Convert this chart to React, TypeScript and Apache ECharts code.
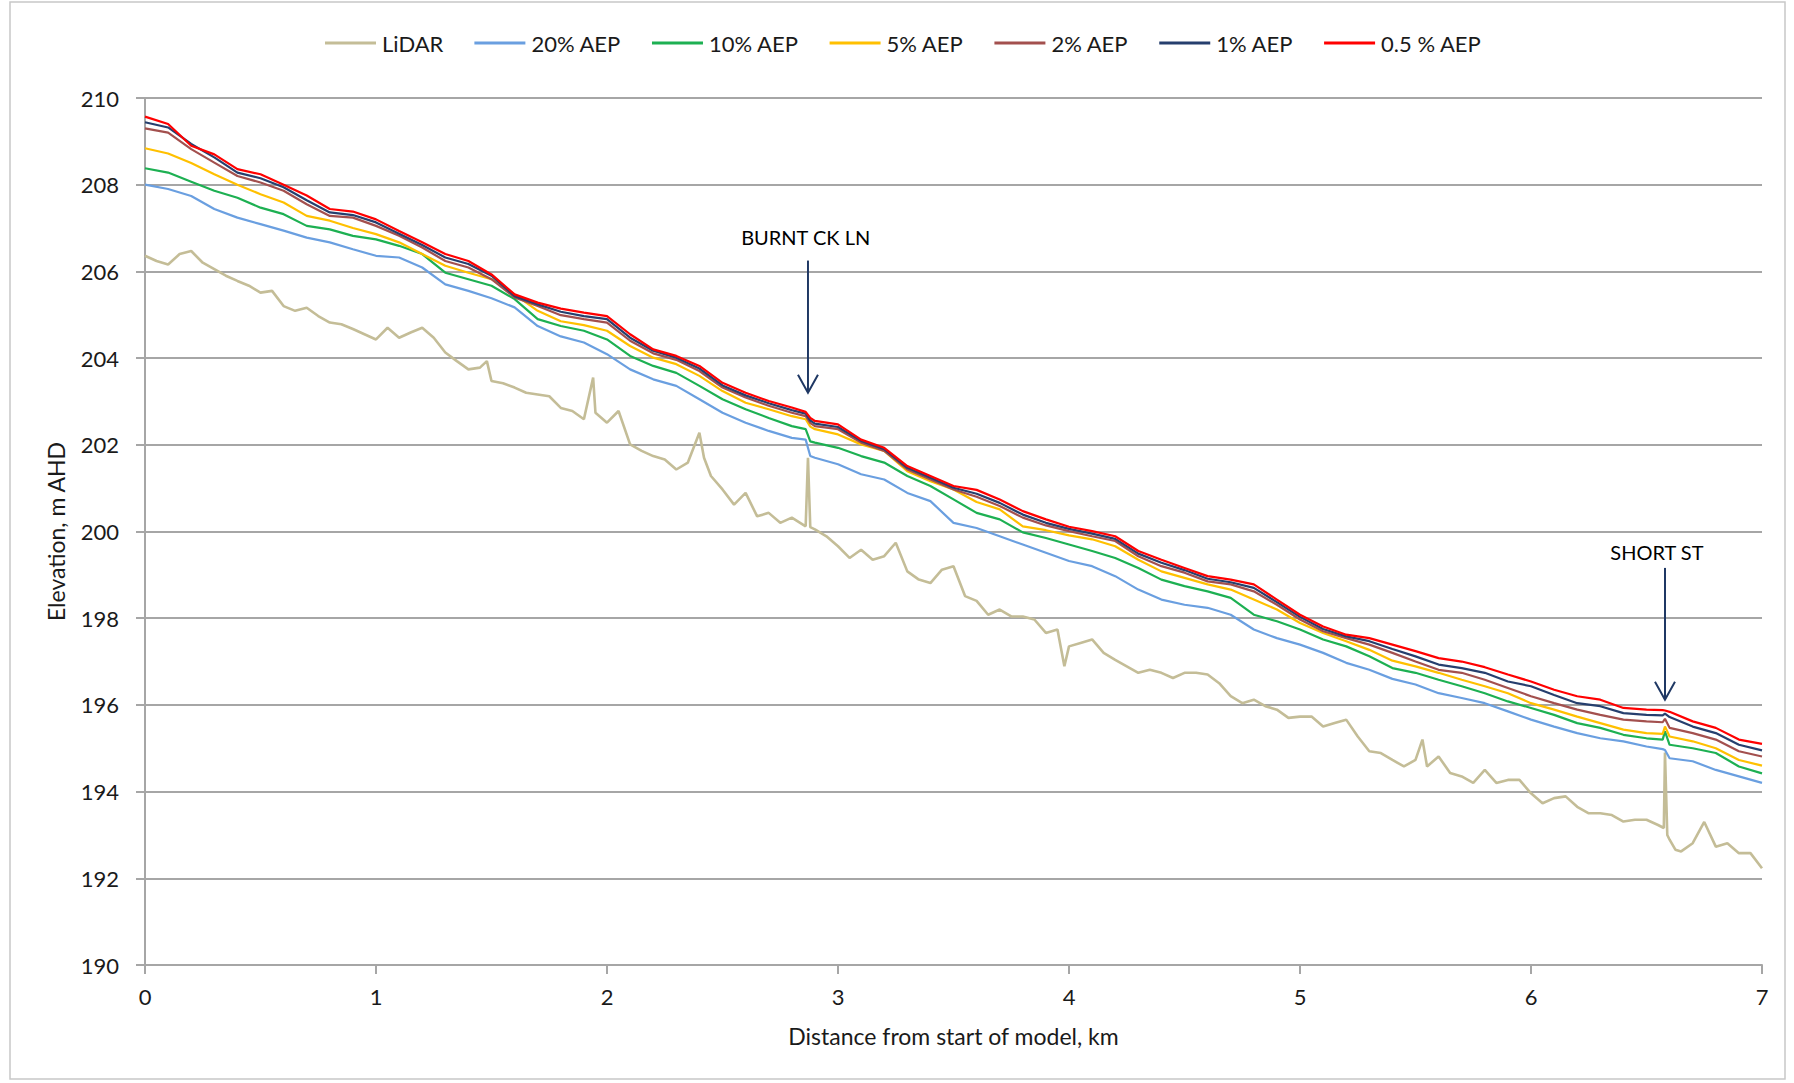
import React, { useEffect, useRef } from "react";
import * as echarts from "echarts";

// ---- Data ----
const aepDistance = [
  0, 0.1, 0.2, 0.3, 0.4, 0.5, 0.6, 0.7, 0.8, 0.9,
  1.0, 1.1, 1.2, 1.3, 1.4, 1.5, 1.6, 1.7, 1.8, 1.9,
  2.0, 2.1, 2.2, 2.3, 2.4, 2.5, 2.6, 2.7, 2.8,
  2.86, 2.88,
  2.9,
  3.0, 3.1, 3.2, 3.3, 3.4, 3.5, 3.6, 3.7, 3.8, 3.9,
  4.0, 4.1, 4.2, 4.3, 4.4, 4.5, 4.6, 4.7, 4.8, 4.9,
  5.0, 5.1, 5.2, 5.3, 5.4, 5.5, 5.6, 5.7, 5.8, 5.9,
  6.0, 6.1, 6.2, 6.3, 6.4, 6.5,
  6.57, 6.58,
  6.6, 6.7, 6.8, 6.9, 7.0,
];

const aep20 = [
  208.0, 207.9, 207.74, 207.44, 207.24, 207.09, 206.94, 206.78, 206.67, 206.51,
  206.36, 206.32, 206.09, 205.7, 205.55, 205.38, 205.17, 204.74, 204.5, 204.36,
  204.09, 203.74, 203.51, 203.36, 203.05, 202.74, 202.51, 202.32, 202.16,
  202.12, 201.74,
  201.7,
  201.55, 201.32, 201.2, 200.89, 200.7, 200.2, 200.08, 199.89, 199.7, 199.51,
  199.32, 199.2, 198.97, 198.66, 198.43, 198.31, 198.24, 198.08, 197.74, 197.54,
  197.39, 197.2, 196.97, 196.81, 196.6, 196.47, 196.27, 196.16, 196.04, 195.85,
  195.66, 195.5, 195.35, 195.23, 195.16, 195.04,
  194.98, 194.96,
  194.77, 194.7, 194.5, 194.35, 194.2,
];

const aep10 = [
  208.38, 208.28, 208.07, 207.86, 207.7, 207.47, 207.32, 207.05, 206.97, 206.82,
  206.74, 206.59, 206.4, 205.97, 205.82, 205.67, 205.36, 204.9, 204.74, 204.63,
  204.43, 204.05, 203.82, 203.66, 203.36, 203.05, 202.82, 202.62, 202.43,
  202.36, 202.08,
  202.05,
  201.93, 201.74, 201.59, 201.28, 201.05, 200.74, 200.43, 200.28, 199.98, 199.85,
  199.7, 199.55, 199.39, 199.16, 198.89, 198.74, 198.62, 198.47, 198.08, 197.93,
  197.74, 197.51, 197.35, 197.12, 196.85, 196.74, 196.58, 196.43, 196.27, 196.08,
  195.93, 195.77, 195.58, 195.47, 195.31, 195.23,
  195.2, 195.39,
  195.08, 195.0, 194.89, 194.58, 194.42,
];

const aep5 = [
  208.84, 208.72, 208.5, 208.24, 208.0, 207.78, 207.59, 207.28, 207.17, 207.0,
  206.86, 206.67, 206.4, 206.13, 205.97, 205.82, 205.47, 205.09, 204.85, 204.76,
  204.63, 204.28, 204.01, 203.86, 203.59, 203.24, 202.97, 202.82, 202.66,
  202.59, 202.42,
  202.36,
  202.24, 202.01, 201.86, 201.39, 201.16, 200.97, 200.68, 200.51, 200.12, 200.03,
  199.91, 199.82, 199.66, 199.35, 199.08, 198.93, 198.78, 198.66, 198.43, 198.2,
  197.89, 197.66, 197.47, 197.27, 197.02, 196.89, 196.74, 196.58, 196.43, 196.27,
  196.04, 195.89, 195.73, 195.58, 195.43, 195.35,
  195.33, 195.5,
  195.27, 195.16, 195.0, 194.73, 194.6,
];

const aep2 = [
  209.3, 209.2, 208.82, 208.51, 208.2, 208.05, 207.86, 207.55, 207.28, 207.24,
  207.05, 206.82, 206.55, 206.24, 206.09, 205.82, 205.4, 205.2, 204.99, 204.9,
  204.82, 204.4, 204.11, 203.96, 203.7, 203.32, 203.09, 202.9, 202.74,
  202.66, 202.5,
  202.43,
  202.36, 202.05, 201.86, 201.43, 201.2, 200.97, 200.8, 200.59, 200.32, 200.14,
  200.01, 199.89, 199.78, 199.43, 199.2, 199.05, 198.85, 198.78, 198.62, 198.31,
  197.97, 197.7, 197.54, 197.39, 197.2, 197.0, 196.81, 196.74, 196.58, 196.39,
  196.2, 196.04, 195.89, 195.77, 195.66, 195.62,
  195.6, 195.68,
  195.47, 195.35, 195.2, 194.93, 194.81,
];

const aep1 = [
  209.44, 209.32, 208.94, 208.63, 208.28, 208.15, 207.94, 207.64, 207.36, 207.3,
  207.13, 206.87, 206.61, 206.32, 206.17, 205.9, 205.43, 205.24, 205.07, 204.97,
  204.9, 204.47, 204.17, 204.01, 203.76, 203.37, 203.14, 202.96, 202.8,
  202.72, 202.56,
  202.49,
  202.41, 202.09, 201.9, 201.47, 201.24, 201.01, 200.87, 200.66, 200.39, 200.2,
  200.06, 199.95, 199.83, 199.49, 199.28, 199.11, 198.91, 198.83, 198.7, 198.37,
  198.03, 197.75, 197.58, 197.47, 197.29, 197.12, 196.93, 196.85, 196.74, 196.54,
  196.43, 196.23, 196.04, 195.97, 195.81, 195.77,
  195.76, 195.8,
  195.72, 195.5, 195.35, 195.08, 194.95,
];

const aep05 = [
  209.57, 209.4, 208.9, 208.7, 208.36, 208.24, 208.0, 207.75, 207.44, 207.38,
  207.2, 206.93, 206.67, 206.4, 206.24, 205.93, 205.47, 205.28, 205.14, 205.05,
  204.97, 204.55, 204.2, 204.05, 203.82, 203.43, 203.2, 203.01, 202.86,
  202.76, 202.62,
  202.55,
  202.47, 202.12, 201.93, 201.51, 201.28, 201.05, 200.96, 200.74, 200.47, 200.28,
  200.11, 200.01, 199.89, 199.55, 199.35, 199.16, 198.97, 198.89, 198.78, 198.43,
  198.08, 197.81, 197.62, 197.54, 197.39, 197.24, 197.08, 197.0, 196.87, 196.7,
  196.54, 196.35, 196.2, 196.12, 195.93, 195.89,
  195.88, 195.87,
  195.84, 195.62, 195.47, 195.2, 195.1,
];

// LiDAR ground profile: [distance km, elevation m AHD]
const lidarProfile: [number, number][] = [
  [0, 206.36], [0.05, 206.24], [0.1, 206.16], [0.15, 206.4], [0.2, 206.47],
  [0.25, 206.2], [0.3, 206.05], [0.35, 205.9], [0.4, 205.78], [0.45, 205.67],
  [0.5, 205.51], [0.55, 205.55], [0.6, 205.2], [0.65, 205.09], [0.7, 205.16],
  [0.75, 204.97], [0.8, 204.82], [0.85, 204.78], [0.9, 204.67], [0.95, 204.55],
  [1.0, 204.43], [1.05, 204.7], [1.1, 204.47], [1.15, 204.59], [1.2, 204.7],
  [1.25, 204.47], [1.3, 204.13], [1.35, 203.93], [1.4, 203.74], [1.45, 203.78],
  [1.48, 203.93], [1.5, 203.47], [1.55, 203.42], [1.6, 203.32], [1.65, 203.2],
  [1.7, 203.16], [1.75, 203.12], [1.8, 202.85], [1.85, 202.78], [1.9, 202.59],
  [1.94, 203.55], [1.95, 202.74], [2.0, 202.51], [2.05, 202.78], [2.1, 202.01],
  [2.15, 201.86], [2.2, 201.74], [2.25, 201.66], [2.3, 201.43], [2.35, 201.59],
  [2.4, 202.28], [2.42, 201.7], [2.45, 201.28], [2.5, 200.97], [2.55, 200.62],
  [2.6, 200.89], [2.65, 200.35], [2.7, 200.43], [2.75, 200.2], [2.8, 200.32],
  [2.86, 200.12], [2.87, 201.7], [2.88, 200.1], [2.9, 200.05], [2.95, 199.89],
  [3.0, 199.66], [3.05, 199.39], [3.1, 199.58], [3.15, 199.35], [3.2, 199.43],
  [3.25, 199.74], [3.3, 199.08], [3.35, 198.89], [3.4, 198.81], [3.45, 199.12],
  [3.5, 199.2], [3.55, 198.51], [3.6, 198.4], [3.65, 198.08], [3.7, 198.2],
  [3.75, 198.04], [3.8, 198.04], [3.85, 197.97], [3.9, 197.66], [3.95, 197.74],
  [3.98, 196.89], [4.0, 197.35], [4.05, 197.43], [4.1, 197.51], [4.15, 197.2],
  [4.2, 197.04], [4.25, 196.89], [4.3, 196.74], [4.35, 196.81], [4.4, 196.74],
  [4.45, 196.62], [4.5, 196.74], [4.55, 196.74], [4.6, 196.7], [4.65, 196.5],
  [4.7, 196.2], [4.75, 196.04], [4.8, 196.12], [4.85, 195.97], [4.9, 195.89],
  [4.95, 195.7], [5.0, 195.73], [5.05, 195.73], [5.1, 195.5], [5.15, 195.58],
  [5.2, 195.66], [5.25, 195.27], [5.3, 194.93], [5.35, 194.89], [5.4, 194.73],
  [5.45, 194.58], [5.5, 194.73], [5.53, 195.2], [5.55, 194.58], [5.6, 194.81],
  [5.65, 194.43], [5.7, 194.35], [5.75, 194.2], [5.8, 194.5], [5.85, 194.2],
  [5.9, 194.27], [5.95, 194.27], [6.0, 193.96], [6.05, 193.73], [6.1, 193.85],
  [6.15, 193.89], [6.2, 193.65], [6.25, 193.5], [6.3, 193.5], [6.35, 193.46],
  [6.4, 193.31], [6.45, 193.35], [6.5, 193.35], [6.55, 193.23], [6.575, 193.16],
  [6.58, 194.9], [6.59, 193.0], [6.6, 192.89], [6.625, 192.66], [6.65, 192.62],
  [6.7, 192.81], [6.75, 193.3], [6.8, 192.73], [6.85, 192.81], [6.9, 192.58],
  [6.95, 192.58], [7.0, 192.23],
];

const seriesNames = ["LiDAR", "20% AEP", "10% AEP", "5% AEP", "2% AEP", "1% AEP", "0.5 % AEP"];
const seriesColors = ["#C4BD97", "#6A9FE0", "#1DB052", "#FFC000", "#A3504E", "#263F6E", "#FF0000"];
const aepValues = [aep20, aep10, aep5, aep2, aep1, aep05];

const xTicks = { min: 0, max: 7, interval: 1 };
const yTicks = { min: 190, max: 210, interval: 2 };

const annotations = [
  { label: "BURNT CK LN", km: 2.87, textKm: 2.86, textLevel: 206.8, arrowTop: 206.25, arrowTip: 203.2 },
  { label: "SHORT ST", km: 6.58, textKm: 6.545, textLevel: 199.52, arrowTop: 199.16, arrowTip: 196.12 },
];

const FONT = "Lato, 'Noto Sans', sans-serif";
const TEXT = "#1a1a1a";
const GRID = "#A6A6A6";
const ARROW = "#1F3864";

export default function App() {
  const ref = useRef<HTMLDivElement | null>(null);

  useEffect(() => {
    document.body.style.margin = "0";
    document.body.style.overflow = "hidden";
    if (!ref.current) return;
    const chart = echarts.init(ref.current, undefined, { renderer: "svg" });

    const series: any[] = [
      {
        name: seriesNames[0],
        type: "line",
        data: lidarProfile,
        showSymbol: false,
        symbol: "none",
        lineStyle: { color: seriesColors[0], width: 2.6 },
        itemStyle: { color: seriesColors[0] },
        z: 2,
      },
      ...aepValues.map((vals, i) => ({
        name: seriesNames[i + 1],
        type: "line",
        data: aepDistance.map((d, j) => [d, vals[j]]),
        showSymbol: false,
        symbol: "none",
        lineStyle: { color: seriesColors[i + 1], width: 2.2 },
        itemStyle: { color: seriesColors[i + 1] },
        z: 3 + i,
      })),
    ];

    chart.setOption({
      animation: false,
      backgroundColor: "#ffffff",
      textStyle: { fontFamily: FONT },
      legend: {
        data: seriesNames,
        left: 320,
        top: 27,
        icon: "rect",
        itemWidth: 51,
        itemHeight: 3,
        itemGap: 31,
        textStyle: { fontFamily: FONT, fontSize: 22, color: TEXT, padding: [0, 0, 0, 1] },
      },
      grid: { left: 145, right: 32, top: 98, bottom: 118, containLabel: false },
      xAxis: {
        type: "value",
        min: xTicks.min,
        max: xTicks.max,
        interval: xTicks.interval,
        name: "Distance from start of model, km",
        nameLocation: "middle",
        nameGap: 59,
        nameTextStyle: { fontFamily: FONT, fontSize: 23, color: TEXT },
        axisLine: { show: true, lineStyle: { color: GRID, width: 2 } },
        axisTick: { show: true, length: 9, lineStyle: { color: GRID, width: 2 } },
        axisLabel: { fontFamily: FONT, fontSize: 22, color: TEXT, margin: 20 },
        splitLine: { show: false },
      },
      yAxis: {
        type: "value",
        min: yTicks.min,
        max: yTicks.max,
        interval: yTicks.interval,
        name: "Elevation, m AHD",
        nameLocation: "middle",
        nameGap: 78,
        nameTextStyle: { fontFamily: FONT, fontSize: 23, color: TEXT },
        axisLine: { show: true, lineStyle: { color: GRID, width: 2 } },
        axisTick: { show: true, length: 9, lineStyle: { color: GRID, width: 2 } },
        axisLabel: { fontFamily: FONT, fontSize: 22, color: TEXT, margin: 26 },
        splitLine: { show: true, lineStyle: { color: GRID, width: 2 } },
      },
      series,
    });

    const graphics: any[] = [
      {
        type: "rect",
        silent: true,
        shape: { x: 10, y: 2, width: 1775, height: 1077 },
        style: { fill: "none", stroke: "#C8C8C8", lineWidth: 1.5 },
        z: 0,
      },
    ];
    annotations.forEach((a) => {
      const top = chart.convertToPixel({ gridIndex: 0 }, [a.km, a.arrowTop]) as number[];
      const tip = chart.convertToPixel({ gridIndex: 0 }, [a.km, a.arrowTip]) as number[];
      const txt = chart.convertToPixel({ gridIndex: 0 }, [a.textKm, a.textLevel]) as number[];
      graphics.push(
        {
          type: "text",
          silent: true,
          x: txt[0],
          y: txt[1],
          style: {
            text: a.label,
            fontFamily: FONT,
            fontSize: 20,
            fill: "#000000",
            align: "center",
            verticalAlign: "middle",
          },
          z: 10,
        },
        {
          type: "line",
          silent: true,
          shape: { x1: top[0], y1: top[1], x2: tip[0], y2: tip[1] },
          style: { stroke: ARROW, lineWidth: 2 },
          z: 10,
        },
        {
          type: "polyline",
          silent: true,
          shape: {
            points: [
              [tip[0] - 10, tip[1] - 18],
              [tip[0], tip[1]],
              [tip[0] + 10, tip[1] - 18],
            ],
          },
          style: { stroke: ARROW, lineWidth: 2, fill: "none" },
          z: 10,
        }
      );
    });
    chart.setOption({ graphic: graphics });

    return () => {
      chart.dispose();
    };
  }, []);

  return <div ref={ref} style={{ width: 1794, height: 1083 }} />;
}
